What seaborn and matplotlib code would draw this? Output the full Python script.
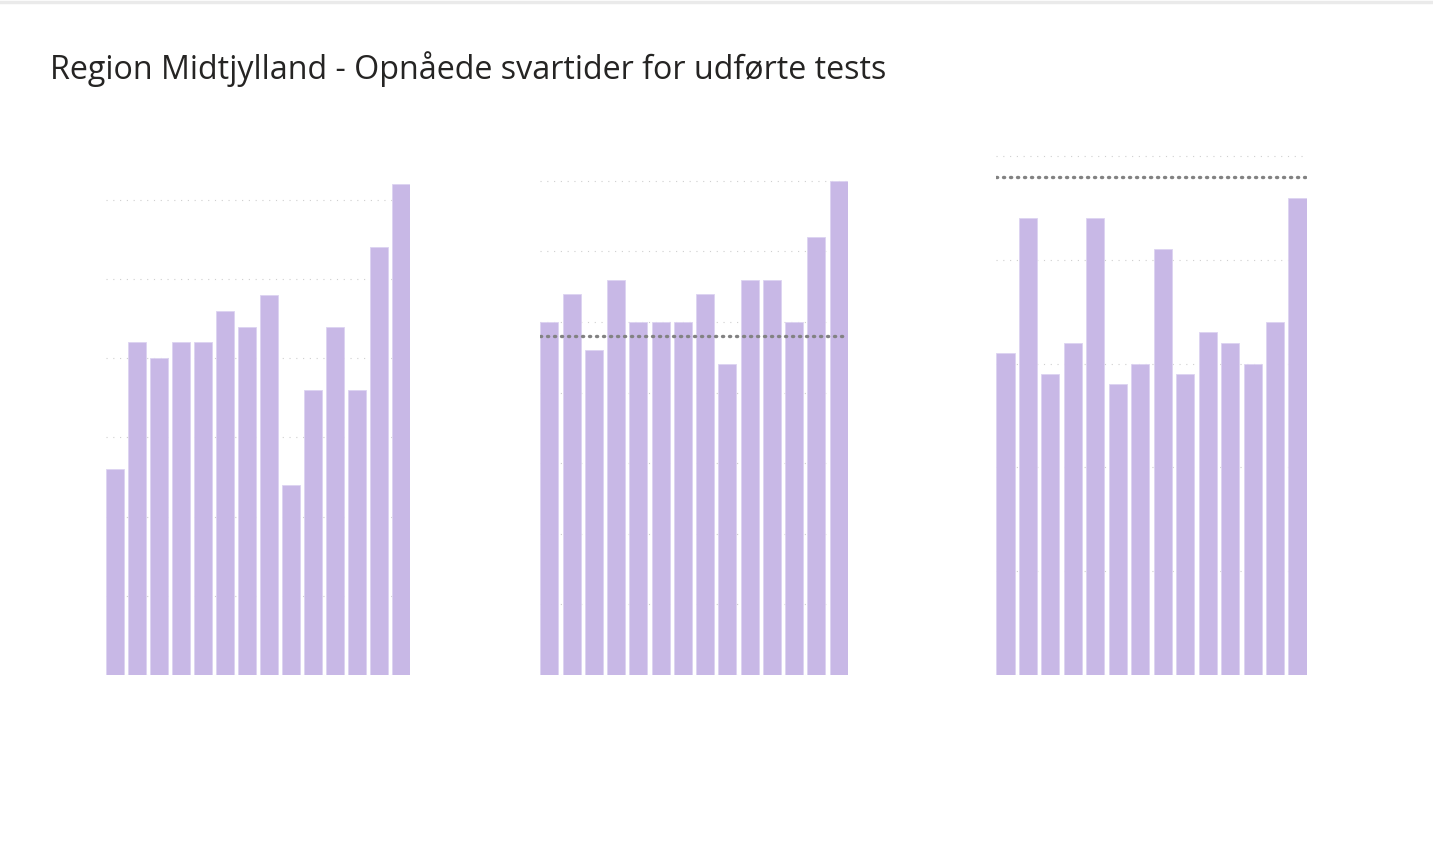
import matplotlib
matplotlib.use("Agg")
import matplotlib.pyplot as plt
import seaborn as sns
import pandas as pd
from matplotlib.lines import Line2D

# values, in units of one gridline step
periods = [str(i) for i in range(1, 15)]
panel1_values = [2.6, 4.2, 4.0, 4.2, 4.2, 4.6, 4.4, 4.8, 2.4, 3.6, 4.4, 3.6, 5.4, 6.2]
panel2_values = [5.0, 5.4, 4.6, 5.6, 5.0, 5.0, 5.0, 5.4, 4.4, 5.6, 5.6, 5.0, 6.2, 7.0]
panel3_values = [3.1, 4.4, 2.9, 3.2, 4.4, 2.8, 3.0, 4.1, 2.9, 3.3, 3.2, 3.0, 3.4, 4.6]
panel2_target = 4.8
panel3_target = 4.8

TITLE = "Region Midtjylland - Opnåede svartider for udførte tests"
BAR_COLOR = "#C8B8E6"
GRID_COLOR = "#CFCFCF"
TARGET_COLOR = "#828282"

W, H = 1433, 850


def draw_panel(ax, values, ymax, target=None):
    df = pd.DataFrame({"periode": periods, "vaerdi": values})
    sns.barplot(data=df, x="periode", y="vaerdi", ax=ax, color=BAR_COLOR,
                saturation=1, width=0.81, edgecolor="#DDD3F1", linewidth=0.6,
                errorbar=None, zorder=2)
    ax.set_xlim(-0.42, len(values) - 0.58)
    ax.set_ylim(0, ymax)
    ax.set_yticks(range(0, int(ymax) + 1))
    ax.yaxis.grid(True, color=GRID_COLOR, linewidth=0.8, dashes=(1, 5.1), zorder=0)
    ax.xaxis.grid(False)
    ax.set_axisbelow(True)
    if target is not None:
        ax.axhline(target, color=TARGET_COLOR, linewidth=2.4,
                   dashes=(0.35, 1.75), dash_capstyle="round", zorder=3)
    ax.set_xlabel("")
    ax.set_ylabel("")
    ax.set_xticklabels([])
    ax.set_yticklabels([])
    ax.tick_params(length=0)
    for s in ax.spines.values():
        s.set_visible(False)


def run():
    sns.set_style("white")
    plt.rcParams["font.family"] = ["Open Sans", "DejaVu Sans"]

    fig = plt.figure(figsize=(W / 100, H / 100), dpi=100)
    bottom_px, top_px = 675, 140

    def rect(x0, x1):
        return [x0 / W, (H - bottom_px) / H, (x1 - x0) / W, (bottom_px - top_px) / H]

    ax1 = fig.add_axes(rect(106, 410))
    ax2 = fig.add_axes(rect(540, 848))
    ax3 = fig.add_axes(rect(996, 1307))

    draw_panel(ax1, panel1_values, 535 / 79.2)
    draw_panel(ax2, panel2_values, 535 / 70.6, panel2_target)
    draw_panel(ax3, panel3_values, 535 / 103.8, panel3_target)

    # thin border line of the visual at the very top
    fig.add_artist(Line2D([0, 1], [0.998, 0.998], color="#EAEAEA", linewidth=2.5,
                          transform=fig.transFigure))

    title = fig.text(50 / W, (H - 79) / H, TITLE, fontsize=25, color="#252423",
                     ha="left", va="baseline")
    fig.canvas.draw()
    width_px = title.get_window_extent().width
    title.set_fontsize(25 * 838 / width_px)

    fig.savefig("out.png", dpi=100, facecolor="white")


if __name__ == "__main__":
    run()
